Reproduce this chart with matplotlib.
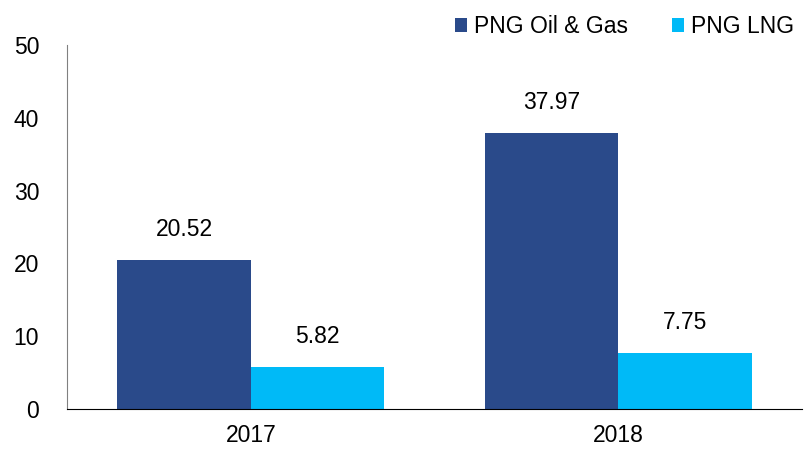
import numpy as np
import matplotlib.pyplot as plt

plt.rcParams['font.family'] = ['Liberation Sans', 'DejaVu Sans']

years = ['2017', '2018']
oil_gas = [20.52, 37.97]
lng = [5.82, 7.75]

dark = '#2A4A8A'
light = '#00BAF7'

fig = plt.figure(figsize=(8.07, 4.51), dpi=100)
ax = fig.add_axes([0.083, 0.093, 0.911, 0.807])

x = np.arange(len(years))
w = 0.363
b1 = ax.bar(x - w / 2, oil_gas, w, color=dark, label='PNG Oil & Gas')
b2 = ax.bar(x + w / 2, lng, w, color=light, label='PNG LNG')

for bars, vals in ((b1, oil_gas), (b2, lng)):
    for b, v in zip(bars, vals):
        ax.text(b.get_x() + b.get_width() / 2, v + 2.6, f'{v:.2f}',
                ha='center', va='bottom', fontsize=16.5)

ax.set_xlim(-0.5, 1.5)
ax.set_ylim(0, 50)
ax.set_yticks(range(0, 51, 10))
ax.set_xticks(x)
ax.set_xticklabels(years)
ax.tick_params(axis='both', length=0, labelsize=16.5)
ax.tick_params(axis='y', pad=20)
ax.tick_params(axis='x', pad=11)

for s in ('top', 'right'):
    ax.spines[s].set_visible(False)
ax.spines['left'].set_color('#808080')
ax.spines['bottom'].set_color('black')

fig.legend(loc='upper right', bbox_to_anchor=(1.01, 1.012), ncol=2, frameon=False,
           fontsize=16.5, handlelength=0.55, handleheight=0.55, handletextpad=0.3,
           columnspacing=1.9)

fig.savefig('out.png', dpi=100)
